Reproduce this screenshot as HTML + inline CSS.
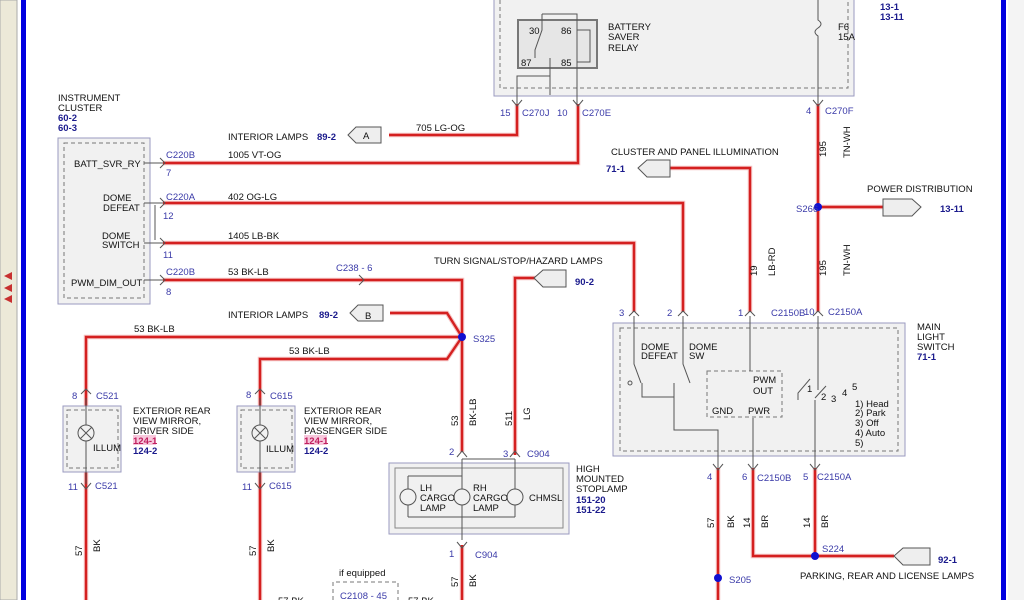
<!DOCTYPE html>
<html><head><meta charset="utf-8"><style>
html,body{margin:0;padding:0;background:#fff;}
svg{display:block;font-family:"Liberation Sans",sans-serif;}
.t{font-size:9.5px;fill:#111;}
.c{font-size:9.5px;fill:#3a3aa8;}
.r{font-size:9.5px;fill:#1a1a8c;font-weight:bold;}
.w{fill:none;stroke:#f6c4c4;stroke-width:4.5;}
.wr{fill:none;stroke:#d42020;stroke-width:2.4;}
.g{fill:none;stroke:#555;stroke-width:1;}
.d{fill:none;stroke:#777;stroke-width:1;stroke-dasharray:4 3;}
</style></head><body>
<svg width="1024" height="600" viewBox="0 0 1024 600" xmlns="http://www.w3.org/2000/svg">
<rect x="0" y="0" width="17" height="600" fill="#ece9d8" stroke="#aaa"/>
<polygon points="4,276 12,272 12,280" fill="#c83030"/>
<polygon points="4,288 12,284 12,292" fill="#c83030"/>
<polygon points="4,299 12,295 12,303" fill="#c83030"/>
<rect x="21" y="0" width="5" height="600" fill="#0000e0"/>
<rect x="1001" y="0" width="5" height="600" fill="#0000e0"/>
<rect x="1008" y="0" width="16" height="600" fill="#f4f4f4"/>

<rect x="494" y="-2" width="360" height="98" fill="#f1f1f1" stroke="#9a9ac0"/>
<path d="M500 0 V88 H848 V0" class="d"/>
<rect x="518" y="20" width="79" height="48" fill="#e6e6e6" stroke="#777" stroke-width="2"/>
<text x="529" y="34" class="t">30</text><text x="561" y="34" class="t">86</text>
<text x="521" y="66" class="t">87</text><text x="561" y="66" class="t">85</text>
<path d="M542 14 H577 V104 M542 14 V30 L535 50 V58 M550 58 V95 M517 104 V76 H550 M577 30 H590 V62 H577" class="g"/>
<text x="608" y="30" class="t">BATTERY</text><text x="608" y="40" class="t">SAVER</text><text x="608" y="51" class="t">RELAY</text>
<path d="M818 0 V20 Q824 24 818 28 Q812 32 818 36 V104" class="g"/>
<text x="838" y="30" class="t">F6</text><text x="838" y="40" class="t">15A</text>
<text x="880" y="10" class="r">13-1</text><text x="880" y="20" class="r">13-11</text>

<text x="58" y="101" class="t">INSTRUMENT</text><text x="58" y="111" class="t">CLUSTER</text>
<text x="58" y="121" class="r">60-2</text><text x="58" y="131" class="r">60-3</text>
<rect x="58" y="138" width="92" height="166" fill="#f1f1f1" stroke="#9a9ac0"/>
<rect x="64" y="143" width="80" height="155" class="d"/>
<text x="74" y="167" class="t">BATT_SVR_RY</text>
<text x="103" y="201" class="t">DOME</text><text x="103" y="211" class="t">DEFEAT</text>
<text x="102" y="239" class="t">DOME</text><text x="102" y="248" class="t">SWITCH</text>
<text x="71" y="286" class="t">PWM_DIM_OUT</text>
<path d="M144 163 H163 M144 203 H163 M144 243 H163 M144 280 H163 M155 205 V240" class="g"/>
<text x="166" y="158" class="c">C220B</text><text x="166" y="176" class="c">7</text>
<text x="166" y="200" class="c">C220A</text><text x="163" y="219" class="c">12</text>
<text x="163" y="258" class="c">11</text>
<text x="166" y="275" class="c">C220B</text><text x="166" y="295" class="c">8</text>

<g>
<path class="w" d="M389 135 H517 V104 M163 163 H578 V104 M163 203 H683 V312 M163 243 H634 V312 M670 168 H750 V312 M818 104 V312 M818 207 H883 M163 280 H462 V452 M390 313 H447 L462 337 M86 600 V337 H462 M260 600 V359 H447 L462 337 M537 278 H515 V455 M462 545 V600 M718 468 V600 M753 468 V556 H815 M815 468 V556 H894"/>
<path class="wr" d="M389 135 H517 V104 M163 163 H578 V104 M163 203 H683 V312 M163 243 H634 V312 M670 168 H750 V312 M818 104 V312 M818 207 H883 M163 280 H462 V452 M390 313 H447 L462 337 M86 600 V337 H462 M260 600 V359 H447 L462 337 M537 278 H515 V455 M462 545 V600 M718 468 V600 M753 468 V556 H815 M815 468 V556 H894"/>
</g>
<path d="M160 158 L165 163 L160 168 M160 198 L165 203 L160 208 M160 238 L165 243 L160 248 M160 275 L165 280 L160 285 M359 275 L364 280 L359 285" class="g" stroke="#000" stroke-width="1.4"/>
<text x="416" y="131" class="t">705  LG-OG</text>
<text x="228" y="158" class="t">1005    VT-OG</text>
<text x="228" y="200" class="t">402   OG-LG</text>
<text x="228" y="239" class="t">1405    LB-BK</text>
<text x="228" y="275" class="t">53  BK-LB</text>
<text x="336" y="271" class="c">C238 -  6</text>
<text x="134" y="332" class="t">53  BK-LB</text>
<text x="289" y="354" class="t">53  BK-LB</text>
<text x="228" y="140" class="t">INTERIOR LAMPS</text><text x="317" y="140" class="r">89-2</text>
<polygon points="348,135 356,127 381,127 381,143 356,143" fill="#eee" stroke="#555"/><text x="363" y="139" class="t">A</text>
<text x="228" y="318" class="t">INTERIOR LAMPS</text><text x="319" y="318" class="r">89-2</text>
<polygon points="350,313 358,305 383,305 383,321 358,321" fill="#eee" stroke="#555"/><text x="365" y="319" class="t">B</text>
<circle cx="462" cy="337" r="4" fill="#1010d0"/><text x="473" y="342" class="c">S325</text>

<path d="M512 100 L517 106 L522 100 M573 100 L578 106 L583 100 M813 100 L818 106 L823 100" class="g" stroke="#000" stroke-width="1.4"/>
<text x="500" y="116" class="c">15</text><text x="522" y="116" class="c">C270J</text>
<text x="557" y="116" class="c">10</text><text x="582" y="116" class="c">C270E</text>
<text x="806" y="114" class="c">4</text><text x="825" y="114" class="c">C270F</text>
<text x="611" y="155" class="t">CLUSTER AND PANEL ILLUMINATION</text>
<text x="606" y="172" class="r">71-1</text>
<polygon points="638,168 647,160 670,160 670,177 647,177" fill="#eee" stroke="#555"/>
<text transform="translate(826,157) rotate(-90)" class="t">195</text>
<text transform="translate(850,158) rotate(-90)" class="t">TN-WH</text>
<circle cx="818" cy="207" r="4" fill="#1010d0"/><text x="796" y="212" class="c">S266</text>
<text x="867" y="192" class="t">POWER DISTRIBUTION</text>
<polygon points="883,199 912,199 921,207 912,216 883,216" fill="#eee" stroke="#555"/>
<text x="940" y="212" class="r">13-11</text>
<text transform="translate(757,276) rotate(-90)" class="t">19</text>
<text transform="translate(775,276) rotate(-90)" class="t">LB-RD</text>
<text transform="translate(826,276) rotate(-90)" class="t">195</text>
<text transform="translate(850,276) rotate(-90)" class="t">TN-WH</text>

<text x="434" y="264" class="t">TURN SIGNAL/STOP/HAZARD LAMPS</text>
<polygon points="534,278 543,270 566,270 566,287 543,287" fill="#eee" stroke="#555"/>
<text x="575" y="285" class="r">90-2</text>
<text transform="translate(458,426) rotate(-90)" class="t">53</text>
<text transform="translate(476,426) rotate(-90)" class="t">BK-LB</text>
<text transform="translate(512,426) rotate(-90)" class="t">511</text>
<text transform="translate(530,420) rotate(-90)" class="t">LG</text>

<path d="M629 316 L634 311 L639 316 M678 316 L683 311 L688 316 M745 316 L750 311 L755 316 M813 316 L818 311 L823 316" class="g" stroke="#000" stroke-width="1.4"/>
<text x="619" y="316" class="c">3</text><text x="667" y="316" class="c">2</text>
<text x="749" y="316" class="c" dx="-11">1</text><text x="771" y="316" class="c">C2150B</text>
<text x="815" y="315" class="c" dx="-11">10</text><text x="828" y="315" class="c">C2150A</text>
<rect x="613" y="323" width="292" height="133" fill="#f1f1f1" stroke="#9a9ac0"/>
<rect x="620" y="328" width="278" height="123" class="d"/>
<text x="641" y="350" class="t">DOME</text><text x="641" y="359" class="t">DEFEAT</text>
<text x="689" y="350" class="t">DOME</text><text x="689" y="359" class="t">SW</text>
<rect x="707" y="371" width="75" height="46" class="d"/>
<text x="753" y="383" class="t">PWM</text><text x="753" y="394" class="t">OUT</text>
<text x="712" y="414" class="t">GND</text><text x="748" y="414" class="t">PWR</text>
<path d="M634 316 V364 L641 383 M683 316 V364 L690 383 M750 316 V371 M642 383 V397 H674 V383 M674 397 V430 H718 V468 M753 418 V468 M818 316 V390 M815 400 V468 M815 398 L826 386 M798 400 V393 L810 379" class="g"/>
<circle cx="630" cy="383" r="2" fill="none" stroke="#555"/>
<text x="821" y="400" class="t">2</text><text x="831" y="402" class="t">3</text><text x="842" y="396" class="t">4</text><text x="852" y="390" class="t">5</text><text x="807" y="392" class="t">1</text>
<text x="855" y="407" class="t">1) Head</text><text x="855" y="416" class="t">2) Park</text>
<text x="855" y="426" class="t">3) Off</text><text x="855" y="436" class="t">4) Auto</text><text x="855" y="446" class="t">5)</text>
<text x="917" y="330" class="t">MAIN</text><text x="917" y="340" class="t">LIGHT</text><text x="917" y="350" class="t">SWITCH</text>
<text x="917" y="360" class="r">71-1</text>
<path d="M713 464 L718 470 L723 464 M748 464 L753 470 L758 464 M810 464 L815 470 L820 464" class="g" stroke="#000" stroke-width="1.4"/>
<text x="707" y="480" class="c">4</text><text x="742" y="480" class="c">6</text><text x="757" y="481" class="c">C2150B</text>
<text x="803" y="480" class="c">5</text><text x="817" y="480" class="c">C2150A</text>
<text transform="translate(714,528) rotate(-90)" class="t">57</text><text transform="translate(734,528) rotate(-90)" class="t">BK</text>
<text transform="translate(750,528) rotate(-90)" class="t">14</text><text transform="translate(768,528) rotate(-90)" class="t">BR</text>
<text transform="translate(810,528) rotate(-90)" class="t">14</text><text transform="translate(828,528) rotate(-90)" class="t">BR</text>
<circle cx="815" cy="556" r="4" fill="#1010d0"/><text x="822" y="552" class="c">S224</text>
<polygon points="894,556 903,548 930,548 930,565 903,565" fill="#eee" stroke="#555"/>
<text x="938" y="563" class="r">92-1</text>
<text x="800" y="579" class="t">PARKING, REAR AND LICENSE LAMPS</text>
<circle cx="718" cy="578" r="4" fill="#1010d0"/><text x="729" y="583" class="c">S205</text>

<path d="M457 457 L462 451 L467 457 M510 457 L515 451 L520 457 M462 459 H515" class="g" stroke="#000" stroke-width="1.2"/>
<text x="449" y="455" class="c">2</text><text x="503" y="457" class="c">3</text><text x="527" y="457" class="c">C904</text>
<rect x="389" y="463" width="180" height="71" fill="#f1f1f1" stroke="#9a9ac0"/>
<rect x="395" y="468" width="168" height="60" fill="none" stroke="#888"/>
<path d="M408 476 H462 V540 M408 517 H515 M408 476 V517 M515 459 V517 M462 459 V476" class="g"/>
<circle cx="408" cy="497" r="8" fill="#f1f1f1" stroke="#555"/><circle cx="462" cy="497" r="8" fill="#f1f1f1" stroke="#555"/><circle cx="515" cy="497" r="8" fill="#f1f1f1" stroke="#555"/>
<text x="420" y="491" class="t">LH</text><text x="420" y="501" class="t">CARGO</text><text x="420" y="511" class="t">LAMP</text>
<text x="473" y="491" class="t">RH</text><text x="473" y="501" class="t">CARGO</text><text x="473" y="511" class="t">LAMP</text>
<text x="529" y="501" class="t">CHMSL</text>
<text x="576" y="472" class="t">HIGH</text><text x="576" y="482" class="t">MOUNTED</text><text x="576" y="492" class="t">STOPLAMP</text>
<text x="576" y="503" class="r">151-20</text><text x="576" y="513" class="r">151-22</text>
<path d="M457 542 L462 548 L467 542" class="g" stroke="#000" stroke-width="1.4"/>
<text x="449" y="557" class="c">1</text><text x="475" y="558" class="c">C904</text>
<text transform="translate(458,587) rotate(-90)" class="t">57</text><text transform="translate(476,587) rotate(-90)" class="t">BK</text>
<text x="339" y="576" class="t">if equipped</text>
<path d="M333 600 V582 H398 V600" class="d"/>
<text x="340" y="599" class="c">C2108 - 45</text>
<text x="278" y="604" class="t">57  BK</text><text x="408" y="604" class="t">57  BK</text>

<path d="M81 394 L86 389 L91 394 M255 394 L260 389 L265 394 M81 483 L86 489 L91 483 M255 483 L260 489 L265 483" class="g" stroke="#000" stroke-width="1.4"/>
<text x="72" y="399" class="c">8</text><text x="96" y="399" class="c">C521</text>
<text x="246" y="398" class="c">8</text><text x="270" y="399" class="c">C615</text>
<text x="68" y="490" class="c">11</text><text x="95" y="489" class="c">C521</text>
<text x="242" y="490" class="c">11</text><text x="269" y="489" class="c">C615</text>
<rect x="63" y="406" width="58" height="66" fill="#f1f1f1" stroke="#9a9ac0"/>
<rect x="67" y="410" width="51" height="58" class="d"/>
<rect x="237" y="406" width="58" height="66" fill="#f1f1f1" stroke="#9a9ac0"/>
<rect x="241" y="410" width="51" height="58" class="d"/>
<path d="M86 398 V484 M260 398 V484" class="g"/>
<circle cx="86" cy="433" r="8" fill="#f1f1f1" stroke="#555"/><path d="M80 427 L92 439 M92 427 L80 439" class="g"/>
<circle cx="260" cy="433" r="8" fill="#f1f1f1" stroke="#555"/><path d="M254 427 L266 439 M266 427 L254 439" class="g"/>
<text x="93" y="451" class="t" font-size="8">ILLUM</text><text x="266" y="452" class="t" font-size="8">ILLUM</text>
<text x="133" y="414" class="t">EXTERIOR REAR</text><text x="133" y="424" class="t">VIEW MIRROR,</text><text x="133" y="434" class="t">DRIVER SIDE</text>
<rect x="133" y="435" width="23" height="10" fill="#f7c8dc"/>
<text x="133" y="444" class="r" style="fill:#c02060">124-1</text><text x="133" y="454" class="r">124-2</text>
<text x="304" y="414" class="t">EXTERIOR REAR</text><text x="304" y="424" class="t">VIEW MIRROR,</text><text x="304" y="434" class="t">PASSENGER SIDE</text>
<rect x="304" y="435" width="23" height="10" fill="#f7c8dc"/>
<text x="304" y="444" class="r" style="fill:#c02060">124-1</text><text x="304" y="454" class="r">124-2</text>
<text transform="translate(82,556) rotate(-90)" class="t">57</text><text transform="translate(100,552) rotate(-90)" class="t">BK</text>
<text transform="translate(256,556) rotate(-90)" class="t">57</text><text transform="translate(274,552) rotate(-90)" class="t">BK</text>
</svg>
</body></html>
